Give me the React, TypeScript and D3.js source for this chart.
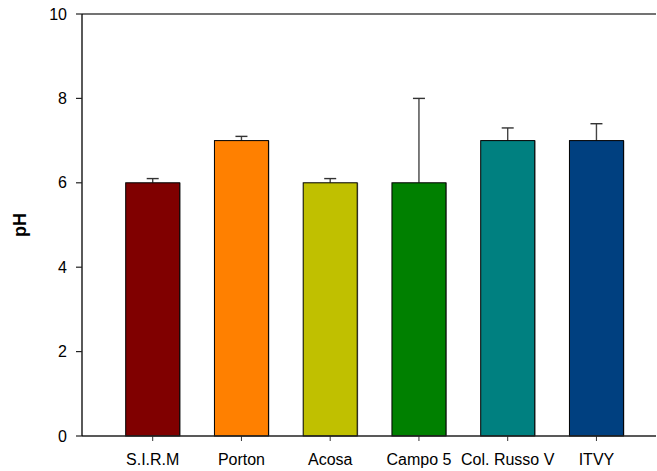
import React from "react";
import * as d3 from "d3";

const categories = ["S.I.R.M", "Porton", "Acosa", "Campo 5", "Col. Russo V", "ITVY"];
const values = [6, 7, 6, 6, 7, 7];
const errors = [0.1, 0.1, 0.1, 2, 0.3, 0.4];
const colors = ["#800000", "#FF8000", "#C0C000", "#008000", "#008080", "#004080"];
const yTicks = [0, 2, 4, 6, 8, 10];

const W = 657;
const H = 471;
const left = 82;
const right = 656;
const top = 14;
const bottom = 436;

export default function App() {
  const y = d3.scaleLinear().domain([0, 10]).range([bottom, top]);
  const step = 88.75;
  const x = d3
    .scaleBand<string>()
    .domain(categories)
    .range([152.7 - step / 2, 152.7 - step / 2 + step * categories.length])
    .paddingInner(1 - 54 / step)
    .paddingOuter((1 - 54 / step) / 2);
  const bw = x.bandwidth();
  const font = "'Liberation Sans', Arial, sans-serif";

  return (
    <svg
      width={W}
      height={H}
      style={{ position: "absolute", left: 0, top: 0, background: "#fff" }}
      fontFamily={font}
    >
      {categories.map((c, i) => {
        const x0 = x(c)!;
        const cx = x0 + bw / 2;
        const yTop = y(values[i] + errors[i]);
        return (
          <g key={c}>
            <line x1={cx} x2={cx} y1={y(values[i])} y2={yTop} stroke="#444" strokeWidth={1.4} />
            <line x1={cx - 6} x2={cx + 6} y1={yTop} y2={yTop} stroke="#333" strokeWidth={1.4} />
            <rect
              x={x0 + 1}
              y={y(values[i])}
              width={bw}
              height={bottom - y(values[i])}
              fill="#999"
            />
            <rect
              x={x0}
              y={y(values[i])}
              width={bw}
              height={bottom - y(values[i])}
              fill={colors[i]}
              stroke="#000"
              strokeWidth={1}
            />
            <line x1={cx} x2={cx} y1={bottom} y2={bottom + 5} stroke="#333" strokeWidth={1} />
            <text x={cx} y={465} textAnchor="middle" fontSize={16} fill="#000">
              {c}
            </text>
          </g>
        );
      })}
      <line x1={left} x2={right} y1={top} y2={top} stroke="#444" strokeWidth={1.3} />
      <line x1={left} x2={right} y1={bottom} y2={bottom} stroke="#222" strokeWidth={1.3} />
      <line x1={left} x2={left} y1={top} y2={bottom} stroke="#000" strokeWidth={1.3} />
      {yTicks.map((t) => (
        <g key={t}>
          <line x1={left - 6} x2={left} y1={y(t)} y2={y(t)} stroke="#222" strokeWidth={1.2} />
          <text x={67} y={y(t)} dy="0.35em" textAnchor="end" fontSize={16} fill="#000">
            {t}
          </text>
        </g>
      ))}
      <text
        transform={`translate(26, ${(top + bottom) / 2 + 0}) rotate(-90)`}
        textAnchor="middle"
        fontSize={18}
        fontWeight="bold"
        fill="#000"
      >
        pH
      </text>
    </svg>
  );
}
